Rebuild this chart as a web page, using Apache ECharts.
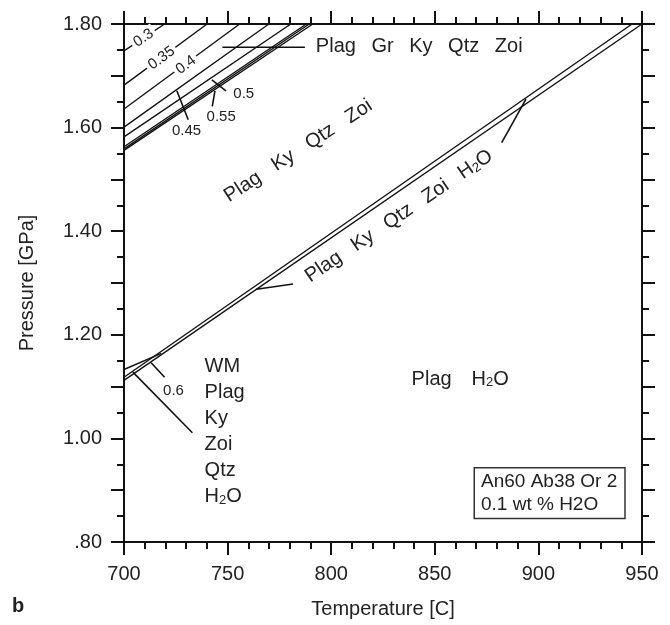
<!DOCTYPE html>
<html>
<head>
<meta charset="utf-8">
<script src="https://cdn.jsdelivr.net/npm/echarts@6/dist/echarts.min.js"></script>
<style>
  html, body { margin: 0; padding: 0; background: #fff; }
  #chart { width: 670px; height: 625px; }
</style>
</head>
<body>
<div id="chart"></div>
<script>
const FONT = '"Liberation Sans", Arial, Helvetica, sans-serif';
const INK = '#111';
const TXT = '#222';

// axis ranges and tick label format
const tempRange = [700, 950];
const pressureRange = [0.8, 1.8];
const pressureLabelStep = 0.2;

// phase boundaries, [T (C), P (GPa)]
const iso030 = [[700, 1.748], [719.6, 1.80]];
const iso035 = [[700, 1.682], [740.1, 1.80]];
const iso040 = [[700, 1.636], [755.8, 1.80]];
const iso045 = [[700, 1.601], [769.9, 1.80]];
const iso050 = [[700, 1.582], [780.5, 1.80]];
const iso055 = [[700, 1.563], [788.0, 1.80]];
const grOutA = [[700, 1.559], [789.4, 1.80]];
const grOutB = [[700, 1.556], [791.1, 1.80]];
const zoiOutA = [[700, 1.118], [945.2, 1.80]];
const zoiOutB = [[700, 1.112], [950, 1.80]];
const wmOut = [[700, 1.133], [718, 1.164]];

// leader lines from labels to boundaries
const leaderGr = [[747.5, 1.755], [787.3, 1.755]];
const leaderKyLow = [[763.9, 1.288], [781.6, 1.298]];
const leaderKyHigh = [[882.3, 1.571], [894.0, 1.655]];
const leaderWm = [[704.3, 1.128], [733.0, 1.011]];
const leader060 = [[713.1, 1.146], [719.6, 1.118]];
const leader045 = [[725.5, 1.671], [731.0, 1.615]];
const leader055 = [[743.9, 1.671], [742.6, 1.641]];
const leader050 = [[742.4, 1.692], [749.2, 1.671]];

// field labels: [T, P, text, angle deg]
const fieldLabels = [
  [709.4, 1.773, '0.3', 34],
  [718.1, 1.734, '0.35', 36],
  [729.9, 1.721, '0.4', 36],
  [730.2, 1.593, '0.45', 0],
  [746.9, 1.621, '0.55', 0],
  [757.8, 1.665, '0.5', 0],
  [723.9, 1.091, '0.6', 0]
];

const boundaries = [iso030, iso035, iso040, iso045, iso050, iso055, grOutA, grOutB, zoiOutA, zoiOutB, wmOut];
const leaders = [leaderGr, leaderKyLow, leaderKyHigh, leaderWm, leader060, leader045, leader055, leader050];

const chart = echarts.init(document.getElementById('chart'), null, { renderer: 'canvas' });

function lineSeries(pts, width) {
  return {
    type: 'line',
    data: pts,
    symbol: 'none',
    silent: true,
    lineStyle: { color: INK, width: width },
    z: 3
  };
}

function pressureLabel(v) {
  const k = Math.round((v - pressureRange[0]) / 0.1);
  if (k % Math.round(pressureLabelStep / 0.1) !== 0) return '';
  let s = v.toFixed(2);
  if (s.startsWith('0')) s = s.slice(1);
  return s;
}

const tick = { show: true, length: 13, lineStyle: { color: INK, width: 2 } };
const minor = (n) => ({ show: true, splitNumber: n, length: 7, lineStyle: { color: INK, width: 2 } });
const axisLine = { show: true, onZero: false, lineStyle: { color: INK, width: 2 } };
const labelStyle = { fontFamily: FONT, fontSize: 20, color: TXT };

chart.setOption({
  animation: false,
  backgroundColor: '#fff',
  grid: { left: 124, right: 28, top: 24, bottom: 83 },
  xAxis: [
    {
      type: 'value', min: tempRange[0], max: tempRange[1], interval: 50, position: 'bottom',
      axisLine, axisTick: tick, minorTick: minor(5), splitLine: { show: false },
      axisLabel: { ...labelStyle, margin: 22 },
      name: 'Temperature [C]', nameLocation: 'middle', nameGap: 57,
      nameTextStyle: { ...labelStyle }
    },
    {
      type: 'value', min: tempRange[0], max: tempRange[1], interval: 50, position: 'top',
      axisLine, axisTick: tick, minorTick: minor(5), splitLine: { show: false },
      axisLabel: { show: false }
    }
  ],
  yAxis: [
    {
      type: 'value', min: pressureRange[0], max: pressureRange[1], interval: 0.1, position: 'left',
      axisLine, axisTick: tick, minorTick: minor(2), splitLine: { show: false },
      axisLabel: { ...labelStyle, margin: 22, formatter: pressureLabel },
      name: 'Pressure [GPa]', nameLocation: 'middle', nameGap: 87,
      nameTextStyle: { ...labelStyle }
    },
    {
      type: 'value', min: pressureRange[0], max: pressureRange[1], interval: 0.1, position: 'right',
      axisLine, axisTick: tick, minorTick: minor(2), splitLine: { show: false },
      axisLabel: { show: false }
    }
  ],
  series: [
    ...boundaries.map((b) => lineSeries(b, 1.4)),
    ...leaders.map((l) => lineSeries(l, 1.6))
  ]
});

// annotations placed in data space
const at = (t, p) => chart.convertToPixel({ seriesIndex: 0 }, [t, p]);
const rad = (d) => (d * Math.PI) / 180;
const sub = { s: { fontSize: 13, verticalAlign: 'bottom', height: 19, fontFamily: FONT, fill: TXT } };
const GAP = '\u2002 ';

function text(t, p, str, opts) {
  const [x, y] = at(t, p);
  return {
    type: 'text', x, y, z: 100,
    rotation: rad(opts.angle || 0),
    style: {
      text: str, fontFamily: FONT, fontSize: opts.size || 20, fill: TXT,
      align: opts.align || 'center', verticalAlign: opts.valign || 'middle',
      lineHeight: opts.lineHeight || 26, rich: sub,
      backgroundColor: opts.bg, padding: opts.padding
    }
  };
}

const graphics = [];
fieldLabels.forEach(([t, p, s, a]) => {
  graphics.push(text(t, p, s, { size: 15, angle: a, lineHeight: 17, bg: a ? '#fff' : undefined, padding: a ? [0, 3] : undefined }));
});
graphics.push(text(792.6, 1.757, ['Plag', 'Gr', 'Ky', 'Qtz', 'Zoi'].join(GAP), { align: 'left' }));
graphics.push(text(784.1, 1.555, ['Plag', 'Ky', 'Qtz', 'Zoi'].join('   '), { angle: 33 }));
graphics.push(text(832.7, 1.429, ['Plag', 'Ky', 'Qtz', 'Zoi', 'H{s|2}O'].join(GAP), { angle: 34 }));
graphics.push(text(838.8, 1.114, 'Plag\u2002\u2002H{s|2}O', { align: 'left' }));
graphics.push(text(738.9, 1.163, ['WM', 'Plag', 'Ky', 'Zoi', 'Qtz', 'H{s|2}O'].join('\n'), { align: 'left', valign: 'top' }));

const [bx, by] = at(869.4, 0.942);
graphics.push({
  type: 'text', x: bx, y: by, z: 100,
  style: {
    text: 'An60 Ab38 Or 2\n0.1 wt % H2O', fontFamily: FONT, fontSize: 19, lineHeight: 22.7,
    fill: TXT, align: 'left', verticalAlign: 'top',
    borderColor: '#333', borderWidth: 1.5, padding: [2, 7, 2, 6], backgroundColor: '#fff'
  }
});
graphics.push({
  type: 'text', x: 12, y: 596, z: 100,
  style: { text: 'b', fontFamily: FONT, fontSize: 20, fontWeight: 'bold', fill: TXT, align: 'left', verticalAlign: 'top' }
});

chart.setOption({ graphic: graphics });
</script>
</body>
</html>
